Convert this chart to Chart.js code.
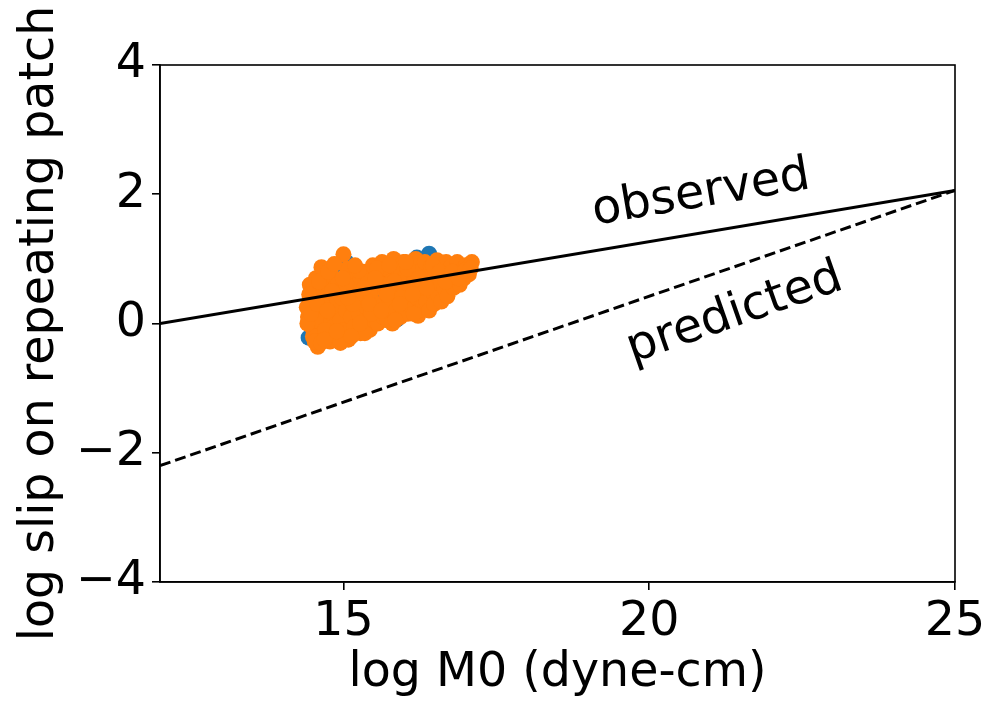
<!DOCTYPE html>
<html>
<head>
<meta charset="utf-8">
<script src="https://cdn.jsdelivr.net/npm/chart.js@4"></script>
<style>
  html, body { margin: 0; padding: 0; background: #fff; }
  #wrap { width: 986px; height: 704px; }
</style>
</head>
<body>
<div id="wrap"><canvas id="chart" width="986" height="704"></canvas></div>
<script>
// --- datos ---
const xTicks = [15, 20, 25];
const yTicks = [-4, -2, 0, 2, 4];

// recta observada y predicha (extremos)
const observedX = [12, 25];
const observedY = [0, 2.06];
const predictedX = [12, 25];
const predictedY = [-2.2, 2.06];

// nube de puntos (serie azul, casi tapada)
const blueX = [14.43, 14.87, 15.05, 15.20, 15.50, 15.80, 15.87, 16.20, 16.40, 16.30,
  16.60, 14.70, 15.00, 16.90, 14.60, 15.40, 15.95, 16.10, 14.55, 15.30];
const blueY = [-0.22, 0.91, 0.95, 0.50, 0.40, 0.70, 0.06, 1.02, 1.08, 0.40,
  0.70, 0.30, 0.10, 0.80, 0.50, 0.20, 0.60, 0.30, 0.00, 0.75];

// serie naranja
const orangeX = [
  14.42, 14.45, 14.48, 14.50, 14.52, 14.55, 14.58, 14.60, 14.62, 14.64,
  14.66, 14.68, 14.70, 14.72, 14.75, 14.78, 14.80, 14.82, 14.84, 14.86,
  14.88, 14.90, 14.92, 14.95, 14.97, 15.00, 15.02, 15.04, 15.06, 15.08,
  15.10, 15.12, 15.15, 15.18, 15.20, 15.22, 15.25, 15.28, 15.30, 15.33,
  15.36, 15.38, 15.40, 15.43, 15.45, 15.48, 15.50, 15.53, 15.56, 15.58,
  15.60, 15.63, 15.65, 15.68, 15.70, 15.72, 15.75, 15.78, 15.80, 15.82,
  15.85, 15.88, 15.90, 15.93, 15.95, 15.98, 16.00, 16.03, 16.05, 16.08,
  16.10, 16.12, 16.15, 16.18, 16.20, 16.22, 16.25, 16.27, 16.30, 16.33,
  16.35, 16.38, 16.40, 16.43, 16.45, 16.48, 16.50, 16.53, 16.55, 16.58,
  16.60, 16.63, 16.65, 16.68, 16.70, 16.73, 16.76, 16.80, 16.83, 16.86,
  16.90, 16.93, 16.97, 17.00, 17.05, 17.10,
  14.45, 14.50, 14.55, 14.60, 14.65, 14.70, 14.75, 14.85, 14.95, 15.05,
  15.15, 15.25, 15.35, 15.45, 15.55, 15.65, 15.75, 15.85, 15.95, 16.05,
  16.15, 16.25,
  14.40, 14.41, 14.44, 14.47, 14.53, 14.57, 14.63, 14.69, 14.74, 14.81,
  14.89, 14.99, 15.07, 15.13, 15.19, 15.27, 15.34, 15.42, 15.52, 15.62,
  15.71, 15.83, 15.92, 16.02, 16.13, 16.23, 16.36, 16.46, 16.57, 16.67,
  16.78, 16.88, 16.99, 17.08
];
const orangeY = [
  0.10, 0.35, -0.05, 0.55, 0.20, 0.70, -0.36, 0.05, 0.40, 0.87,
  -0.15, 0.25, 0.60, 0.10, 0.45, -0.28, 0.75, 0.15, -0.05, 0.55,
  0.30, -0.20, 0.65, 0.05, 0.40, 1.07, -0.10, 0.20, 0.85, -0.25,
  0.50, 0.10, 0.70, -0.05, 0.35, 0.60, 0.15, -0.15, 0.45, 0.80,
  0.05, 0.25, 0.65, -0.10, 0.40, 0.90, 0.15, 0.55, 0.00, 0.75,
  0.30, 0.95, 0.10, 0.50, 0.85, 0.05, 0.35, 0.65, 0.00, 1.00,
  0.20, 0.45, 0.80, 0.10, 0.60, 0.95, 0.30, 0.75, 0.15, 0.50,
  0.90, 0.25, 0.65, 1.00, 0.40, 0.12, 0.80, 0.22, 0.55, 0.95,
  0.35, 0.70, 0.20, 0.88, 0.50, 0.30, 0.75, 0.98, 0.45, 0.62,
  0.34, 0.85, 0.55, 0.95, 0.42, 0.70, 0.88, 0.55, 0.78, 0.95,
  0.60, 0.82, 0.70, 0.90, 0.76, 0.95,
  0.60, -0.20, 0.05, 0.65, 0.30, -0.10, 0.80, 0.92, -0.30, 0.60,
  0.30, 0.82, -0.15, 0.15, 0.85, 0.60, 0.90, 0.05, 0.40, 0.85,
  0.15, 0.55,
  0.25, 0.00, 0.45, 0.15, -0.28, 0.30, -0.30, -0.25, 0.20, 0.50,
  -0.12, 0.70, 0.40, -0.20, 0.90, 0.00, 0.55, 0.30, 0.70, 0.20,
  0.45, 0.65, 0.30, 0.95, 0.45, 0.70, 0.55, 0.90, 0.80, 0.65,
  0.80, 0.70, 0.82, 0.85
];

const FONT = "'DejaVu Sans', sans-serif";
const FONT_SIZE = 47.5;

function pares(xs, ys) {
  return xs.map((x, i) => ({ x, y: ys[i] }));
}

// marco completo (los cuatro lados) + textos rotados
const marcoPlugin = {
  id: 'marco',
  afterDatasetsDraw(chart) {
    const { ctx, chartArea: a, scales } = chart;
    ctx.save();
    ctx.strokeStyle = '#000';
    ctx.lineWidth = 1.6;
    ctx.strokeRect(a.left, a.top, a.right - a.left, a.bottom - a.top);

    ctx.fillStyle = '#000';
    ctx.font = FONT_SIZE + 'px ' + FONT;
    ctx.textAlign = 'center';
    ctx.textBaseline = 'middle';
    const notas = [
      { text: 'observed', x: 20.85, y: 2.0, ang: -9.6 },
      { text: 'predicted', x: 21.4, y: 0.15, ang: -19.3 },
    ];
    notas.forEach((n) => {
      ctx.save();
      ctx.translate(scales.x.getPixelForValue(n.x), scales.y.getPixelForValue(n.y));
      ctx.rotate(n.ang * Math.PI / 180);
      ctx.fillText(n.text, 0, 0);
      ctx.restore();
    });
    ctx.restore();
  },
};

new Chart(document.getElementById('chart'), {
  type: 'scatter',
  data: {
    datasets: [
      {
        label: 'observed',
        data: pares(observedX, observedY),
        showLine: true,
        borderColor: '#000',
        borderWidth: 3,
        pointRadius: 0,
        order: 0,
      },
      {
        label: 'predicted',
        data: pares(predictedX, predictedY),
        showLine: true,
        borderColor: '#000',
        borderWidth: 3,
        borderDash: [11, 5],
        pointRadius: 0,
        order: 0,
      },
      {
        label: 'orange',
        data: pares(orangeX, orangeY),
        backgroundColor: '#ff7f0e',
        borderWidth: 0,
        pointRadius: 8,
        order: 1,
      },
      {
        label: 'blue',
        data: pares(blueX, blueY),
        backgroundColor: '#1f77b4',
        borderWidth: 0,
        pointRadius: 8,
        order: 2,
      },
    ],
  },
  options: {
    responsive: false,
    animation: false,
    events: [],
    layout: { padding: { top: 65, right: 31, left: 0, bottom: 0 } },
    plugins: {
      legend: { display: false },
      tooltip: { enabled: false },
    },
    scales: {
      x: {
        type: 'linear',
        min: 12,
        max: 25,
        afterBuildTicks(scale) {
          scale.ticks = xTicks.map((v) => ({ value: v }));
        },
        afterFit(scale) {
          scale.height = 122;
          scale.paddingRight = 0;
          scale.paddingLeft = 0;
        },
        grid: { display: true, drawOnChartArea: false, drawTicks: true, tickLength: 8, color: '#000', lineWidth: 1.6 },
        border: { display: true, color: '#000', width: 1.6 },
        ticks: { color: '#000', font: { family: FONT, size: FONT_SIZE }, padding: 4, maxRotation: 0 },
        title: {
          display: true,
          text: 'log M0 (dyne-cm)',
          color: '#000',
          font: { family: FONT, size: FONT_SIZE },
          padding: { top: 0, bottom: 2 },
        },
      },
      y: {
        type: 'linear',
        min: -4,
        max: 4,
        afterBuildTicks(scale) {
          scale.ticks = yTicks.map((v) => ({ value: v }));
        },
        afterFit(scale) {
          scale.width = 160;
          scale.paddingTop = 0;
          scale.paddingBottom = 0;
        },
        grid: { display: true, drawOnChartArea: false, drawTicks: true, tickLength: 8, color: '#000', lineWidth: 1.6 },
        border: { display: true, color: '#000', width: 1.6 },
        ticks: {
          color: '#000',
          font: { family: FONT, size: FONT_SIZE },
          padding: 6,
          callback: (v) => String(v).replace('-', '\u2212'),
        },
        title: {
          display: true,
          text: 'log slip on repeating patch',
          color: '#000',
          font: { family: FONT, size: FONT_SIZE },
          padding: { top: 12, bottom: 0 },
        },
      },
    },
  },
  plugins: [marcoPlugin],
});
</script>
</body>
</html>
